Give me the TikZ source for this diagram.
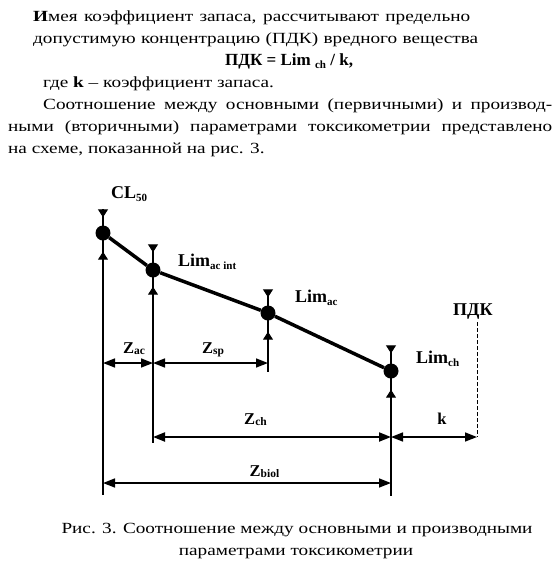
\documentclass[tikz,border=0pt]{standalone}
\usepackage{fontspec}
\setmainfont{Liberation Serif}
\newfontfamily\bodyfont{Liberation Serif}[FakeStretch=1.24]
\usetikzlibrary{arrows.meta}

\newcommand{\lsub}[1]{\raisebox{-3pt}{\fontsize{11}{11}\selectfont #1}}
\newcommand{\zsub}[1]{\raisebox{-1.5pt}{\fontsize{11.5}{11}\selectfont #1}}

\begin{document}
\begin{tikzpicture}[x=1pt, y=-1pt,
  txt/.style={anchor=base west, inner sep=0pt, font=\bodyfont\fontsize{15.5}{18}\selectfont},
  captext/.style={anchor=base, inner sep=0pt, font=\bodyfont\fontsize{15.5}{18}\selectfont},
  lab/.style={anchor=base west, inner sep=0pt, font=\fontsize{18}{20}\selectfont\bfseries},
  zlab/.style={anchor=base, inner sep=0pt, font=\fontsize{16.5}{18}\selectfont\bfseries},
  pt/.style={circle, fill=black, inner sep=0pt, minimum size=15pt},
  curve/.style={line width=3.5pt},
  vline/.style={line width=1.2pt},
  tick/.style={line width=1pt, -{Triangle[length=8pt, width=10pt]}},
  dim/.style={line width=1.5pt, {Triangle[length=12pt, width=9pt]}-{Triangle[length=12pt, width=9pt]}}]
  \fill[white] (0,0) rectangle (557,566);
  \useasboundingbox (0,0) rectangle (557,566);

  % Text above
  \node[txt] (t1) at (33,21.7) {\makebox[437pt][s]{\textbf{И}мея коэффициент запаса, рассчитывают предельно}};
  \node[txt] (t2) at (33,43.6) {\makebox[445pt][s]{допустимую концентрацию (ПДК) вредного вещества}};
  \node[txt, font=\fontsize{17}{18}\selectfont] (t3) at (225,65.5) {\textbf{ПДК = Lim \lsub{ch} / k,}};
  \node[txt] (t4) at (43,87.4) {где \textbf{k} – коэффициент запаса.};
  \node[txt] (t5) at (43,109.3) {\makebox[509pt][s]{Соотношение между основными (первичными) и производ-}};
  \node[txt] (t6) at (8,131.2) {\makebox[544pt][s]{ными (вторичными) параметрами токсикометрии представлено}};
  \node[txt] (t7) at (8,153.1) {на схеме, показанной на рис. 3.};

  % Points
  \node[pt] (cl) at (103,233) {};
  \node[pt] (lai) at (153,270) {};
  \node[pt] (lac) at (268,313) {};
  \node[pt] (lch) at (391,371) {};

  % Vertical lines
  \coordinate (cl top) at (103,209);
  \coordinate (cl bot) at (103,495);
  \coordinate (lai top) at (153,245);
  \coordinate (lai bot) at (153,443);
  \coordinate (lac top) at (268,290);
  \coordinate (lac bot) at (268,372);
  \coordinate (lch top) at (391,347);
  \coordinate (lch bot) at (391,496);
  \coordinate (pdk top) at (477,322);
  \coordinate (pdk bot) at (477,437);
  \draw[vline, line width=2pt] (cl top) -- (cl bot);
  \draw[vline] (lai top) -- (lai bot);
  \draw[vline] (lac top) -- (lac bot);
  \draw[vline] (lch top) -- (lch bot);
  \draw[line width=0.8pt, dash pattern=on 4pt off 2pt] (pdk top) -- (pdk bot);

  % Markers
  \draw[tick] (cl top) -- ([yshift=8pt]cl.north);
  \draw[tick] ([yshift=-19pt]cl.south) -- ([yshift=-11pt]cl.south);
  \draw[tick] (lai top) -- ([yshift=10pt]lai.north);
  \draw[tick] ([yshift=-17pt]lai.south) -- ([yshift=-9pt]lai.south);
  \draw[tick] (lac top) -- ([yshift=8pt]lac.north);
  \draw[tick] ([yshift=-19pt]lac.south) -- ([yshift=-11pt]lac.south);
  \draw[tick] (lch top) -- ([yshift=10pt]lch.north);
  \draw[tick] ([yshift=-19pt]lch.south) -- ([yshift=-11pt]lch.south);

  % Curve
  \draw[curve] (cl) -- (lai) -- (lac) -- (lch);

  % Dimensions
  \coordinate (row sp) at (0,363);
  \coordinate (row ch) at (0,437);
  \coordinate (row biol) at (0,483);
  \draw[dim] (cl |- row sp) -- (lai |- row sp);
  \draw[dim] (lai |- row sp) -- (lac |- row sp);
  \draw[dim, line width=2pt] (lai |- row ch) -- (lch |- row ch);
  \draw[dim] (lch |- row ch) -- (pdk bot);
  \draw[dim] (cl |- row biol) -- (lch |- row biol);

  % Labels
  \node[lab] (cl lab) at (111,198) {CL\lsub{50}};
  \node[lab] (lai lab) at (178,266) {Lim\lsub{ac int}};
  \node[lab] (lac lab) at (295,302) {Lim\lsub{ac}};
  \node[lab] (lch lab) at (416,363) {Lim\lsub{ch}};
  \node[lab] (pdk lab) at (453,315) {ПДК};
  \node[zlab] (zac) at (134,353) {Z\zsub{ac}};
  \node[zlab] (zsp) at (213,353) {Z\zsub{sp}};
  \node[zlab] (zch) at (255.5,424) {Z\zsub{ch}};
  \node[zlab] (k) at (442,424) {k};
  \node[zlab] (zbiol) at (264.5,476) {Z\zsub{biol}};

  % Caption
  \node[captext] (cap1) at (297,533) {Рис. 3. Соотношение между основными и производными};
  \node[captext] (cap2) at (296,555) {параметрами токсикометрии};
\end{tikzpicture}
\end{document}
